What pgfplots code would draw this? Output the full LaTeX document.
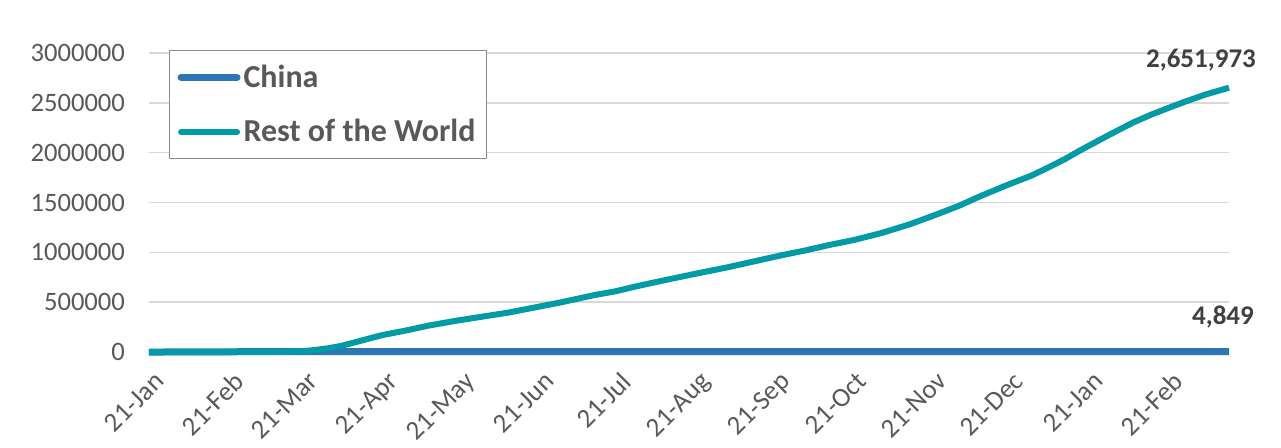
\documentclass[border=0pt]{standalone}
\usepackage{fontspec}
\setmainfont{Carlito}
\usepackage{pgfplots}
\usepackage{pgfplotstable}
\pgfplotsset{compat=1.18}

\definecolor{chinablue}{RGB}{46,117,182}
\definecolor{rowteal}{RGB}{0,155,165}
\definecolor{txtgray}{RGB}{89,89,89}
\definecolor{lblgray}{RGB}{64,64,64}
\definecolor{gridgray}{RGB}{217,217,217}
\definecolor{boxgray}{RGB}{140,140,140}

% day 0 = 21-Jan-2020, cumulative deaths
\pgfplotstableread{
day deaths
0 17
5 56
10 259
15 722
20 1113
25 1523
30 2118
35 2663
40 2835
45 3013
50 3169
55 3217
60 3261
70 3309
80 3339
86 3342
87 4632
120 4634
200 4634
240 4739
300 4742
365 4811
421 4849
}\chinadata

\pgfplotstableread{
day deaths
0 0
10 0
20 5
30 50
40 300
50 1500
55 3500
60 8500
65 21000
70 38000
75 62000
80 95000
85 130000
91 170000
100 215000
109 265000
120 315000
130 355000
140 395000
152 455000
160 495000
173 568000
182 610000
191 665000
200 715000
213 785000
225 847000
236 910000
247 973000
256 1020000
265 1073000
275 1125000
286 1197000
297 1285000
308 1390000
316 1470000
324 1563000
335 1680000
344 1770000
351 1857000
357 1935000
363 2023000
370 2120000
377 2215000
384 2307000
391 2385000
397 2445000
404 2513000
412 2585000
421 2651973
}\rowdata

\begin{document}
\begin{tikzpicture}
\useasboundingbox (-74.5pt,-47.5pt) rectangle (566pt,176pt);
\begin{axis}[
  at={(0,0)}, anchor=south west,
  scale only axis, width=540pt, height=149.5pt,
  xmin=0, xmax=421, ymin=0, ymax=3000000,
  axis line style={draw=none},
  tick style={draw=none},
  ymajorgrids, grid style={gridgray, line width=0.8pt},
  ytick={0,500000,1000000,1500000,2000000,2500000,3000000},
  scaled y ticks=false,
  /pgf/number format/assume math mode=true,
  yticklabel style={/pgf/number format/fixed, /pgf/number format/1000 sep={},
    font=\fontsize{13.3}{15}\selectfont, text=txtgray, xshift=-8.5pt},
  xtick={0,31,60,91,121,152,182,213,244,274,305,335,366,397},
  xticklabels={21-Jan,21-Feb,21-Mar,21-Apr,21-May,21-Jun,21-Jul,21-Aug,21-Sep,21-Oct,21-Nov,21-Dec,21-Jan,21-Feb},
  xticklabel style={xshift=2pt, yshift=-9pt, rotate=45, anchor=north east, inner sep=0pt,
    font=\fontsize{13.5}{15}\selectfont, text=txtgray},
  legend style={at={(0.0185,1.01)}, anchor=north west, draw=boxgray, line width=0.6pt,
    font=\bfseries\fontsize{16}{19}\selectfont, text=txtgray,
    inner xsep=4pt, inner ysep=7pt, row sep=14.5pt,
    nodes={inner xsep=1.5pt, inner ysep=0pt}},
  legend cell align=left,
  legend image code/.code={\draw[#1, line cap=round] (0pt,0pt) -- (28pt,0pt);},
  clip=false,
]
\addplot[chinablue, line width=3.5pt, no markers] table[x=day, y=deaths] {\chinadata};
\addlegendentry{China}
\addplot[rowteal, line width=3pt, no markers] table[x=day, y=deaths] {\rowdata};
\addlegendentry{Rest of the World}
\node[font=\bfseries\fontsize{13.5}{16}\selectfont, text=lblgray, xshift=-14pt, yshift=14pt]
  at (axis cs:421,2651973) {2,651,973};
\node[font=\bfseries\fontsize{13.5}{16}\selectfont, text=lblgray, xshift=-3pt, yshift=17.5pt]
  at (axis cs:421,4849) {4,849};
\end{axis}
\end{tikzpicture}
\end{document}
